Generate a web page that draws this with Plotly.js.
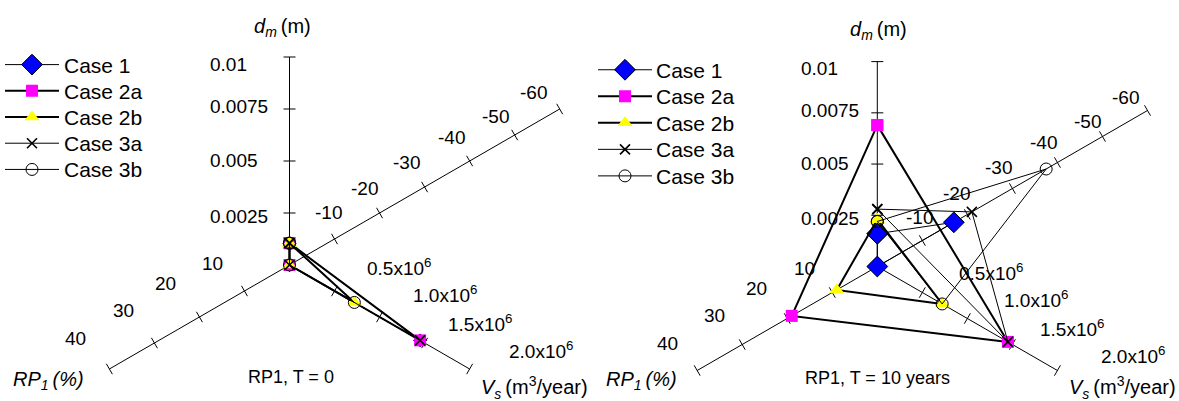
<!DOCTYPE html>
<html><head><meta charset="utf-8">
<script src="https://cdn.plot.ly/plotly-3.0.1.min.js"></script>
<style>html,body{margin:0;padding:0;background:#fff;overflow:hidden}#chart{width:1179px;height:401px}</style>
</head><body><div id="chart"></div>
<script>
// ---------------- data ----------------
const cases = ['Case 1', 'Case 2a', 'Case 2b', 'Case 3a', 'Case 3b'];
// RP1, T = 0
const dm_T0  = [0.00105, 0.00105, 0.00105, 0.00105, 0.00105];
const vs_T0  = [1.45e6, 1.45e6, 0.72e6, 1.45e6, 0.72e6];
const rp1_T0 = [0, 0, 0, 0, 0];
// RP1, T = 10 years
const dm_T10  = [0.0016, 0.0069, 0.0023, 0.0028, 0.0022];
const vs_T10  = [0, 1.45e6, 0.72e6, 1.45e6, 0.72e6];
const rp1_T10 = [-17, 19, 9, -21, -37.5];
// axes
const dmTicks = [0.0025, 0.005, 0.0075, 0.01];
const dmTickLabels = ['0.0025', '0.005', '0.0075', '0.01'];
const vsTicks = [0.5e6, 1.0e6, 1.5e6, 2.0e6];
const vsTickLabels = ['0.5x10<sup>6</sup>', '1.0x10<sup>6</sup>', '1.5x10<sup>6</sup>', '2.0x10<sup>6</sup>'];
const rpTicks = [-60, -50, -40, -30, -20, -10, 10, 20, 30, 40];
const rpTickLabels = ['-60', '-50', '-40', '-30', '-20', '-10', '10', '20', '30', '40'];
const dmRange = [0, 0.01], vsRange = [0, 2e6], rpRange = [-60, 40];
const panelTitles = ['RP1, T = 0', 'RP1, T = 10 years'];

// ---------------- styles ----------------
const W = 1179, H = 401;
const FONT = '"Liberation Sans", Arial, Helvetica, sans-serif';
const ANG = {dm: 90, vs: -30, rp: 210};
const MAX = {dm: 0.01, vs: 2e6, rp: 40};
const TS = '\u2009';
const caseStyle = [
  {symbol: 'diamond', size: 16, color: '#0000FF', line: {color: '#000', width: 1}, lw: 1},
  {symbol: 'square', size: 12, color: '#FF00FF', line: {width: 0}, lw: 2},
  {symbol: 'triangle-up', size: 13, color: '#FFFF00', line: {width: 0}, lw: 2},
  {symbol: 'x-thin-open', size: 10, color: '#000', line: {color: '#000', width: 1.6}, lw: 1},
  {symbol: 'circle-open', size: 12, color: '#000', line: {color: '#000', width: 1}, lw: 1}
];
const panels = [
  {ox: 289.5, oy: 265, R: 208, dmLen: 1.0, xa: 'x', ya: 'y', xd: [0, 0.5], leg: 'legend',
   dm: dm_T0, vs: vs_T0, rp: rp1_T0, nudge: [0, 0], dmLabX: -80.5, case1Size: 10,
   legText: [63, 65, 26.2],
   dmTitle: [282.5, 27], rpTitle: [12, 380], vsTitle: [480, 387], cap: [291, 377]},
  {ox: 877.3, oy: 266.5, R: 208, dmLen: 0.985, xa: 'x2', ya: 'y2', xd: [0.5, 1], leg: 'legend2',
   dm: dm_T10, vs: vs_T10, rp: rp1_T10, nudge: [4, 3.5], dmLabX: -77.3, case1Size: 16,
   legText: [655, 70, 26.5],
   dmTitle: [878, 31], rpTitle: [605, 380], vsTitle: [1068, 387], cap: [877, 378]}
];
const dmLabDy = [3, -1, -2.5, 7];
const vsLabOff = [[31.5, -24], [32, -23], [22.4, -20.3], [38.4, -19]];
const rpLabOff = {'-60': [-26, -16.5], '-50': [-19, -18.5], '-40': [-18, -23.5], '-30': [-18, -24],
  '-20': [-14.6, -25], '-10': [-6.5, -27], '10': [-32, -28], '20': [-34.4, -34], '30': [-31.4, -33], '40': [-34, -31]};
const TICKFONT = {family: FONT, size: 19, color: '#000'};
const TITLEFONT = {family: FONT, size: 20, color: '#000'};
const LEGFONT = {family: FONT, size: 21, color: '#000'};

function unit(axis, v, p) {
  const len = axis === 'dm' ? p.dmLen : 1;
  const r = v / MAX[axis] * len;
  const a = ANG[axis] * Math.PI / 180;
  return [r * Math.cos(a), r * Math.sin(a)];
}
function toPix(u, p) { return [p.ox + p.R * u[0], p.oy - p.R * u[1]]; }

const traces = [];
const annotations = [];
function ann(px, py, text, opt) {
  const o = Object.assign({xref: 'paper', yref: 'paper', x: px / W, y: 1 - py / H,
    text: text, showarrow: false, xanchor: 'center', yanchor: 'middle', borderpad: 0,
    font: TICKFONT}, opt || {});
  if (o.xanchor === 'left') o.align = 'left';
  annotations.push(o);
}

panels.forEach((p, pi) => {
  // axis lines
  const ax = [], ay = [];
  const seg = (a, b) => { ax.push(a[0], b[0], null); ay.push(a[1], b[1], null); };
  seg(unit('rp', rpRange[0], p), unit('rp', rpRange[1], p));
  seg(unit('dm', dmRange[0], p), unit('dm', dmRange[1], p));
  seg(unit('vs', vsRange[0], p), unit('vs', vsRange[1], p));
  const h = 6 / p.R;
  const tick = (axis, v) => {
    const c = unit(axis, v, p);
    const a = ANG[axis] * Math.PI / 180;
    const n = [-Math.sin(a) * h, Math.cos(a) * h];
    seg([c[0] - n[0], c[1] - n[1]], [c[0] + n[0], c[1] + n[1]]);
  };
  dmTicks.forEach(v => tick('dm', v));
  vsTicks.forEach(v => tick('vs', v));
  rpTicks.forEach(v => tick('rp', v));
  traces.push({type: 'scatter', mode: 'lines', x: ax, y: ay, xaxis: p.xa, yaxis: p.ya,
    line: {color: '#000', width: 1}, hoverinfo: 'skip', showlegend: false, cliponaxis: false});

  // cases (legend symbols come from the Plotly legend, legend labels are annotations)
  cases.forEach((name, i) => {
    const pts = [unit('dm', p.dm[i], p), unit('vs', p.vs[i], p), unit('rp', p.rp[i], p)];
    pts.push(pts[0]);
    const s = caseStyle[i];
    const size = i === 0 ? p.case1Size : s.size;
    const ownLegend = size === s.size;
    if (!ownLegend) {
      traces.push({type: 'scatter', mode: 'lines+markers', name: ' ', legend: p.leg,
        x: [null], y: [null], xaxis: p.xa, yaxis: p.ya,
        line: {color: '#000', width: s.lw},
        marker: {symbol: s.symbol, size: s.size, color: s.color, line: s.line}});
    }
    traces.push({type: 'scatter', mode: 'lines+markers', name: ' ', legend: p.leg,
      showlegend: ownLegend,
      x: pts.map(q => q[0]), y: pts.map(q => q[1]), xaxis: p.xa, yaxis: p.ya, cliponaxis: false,
      line: {color: '#000', width: s.lw},
      marker: {symbol: s.symbol, size: size, color: s.color, line: s.line}});
    ann(p.legText[0], p.legText[1] + i * p.legText[2], name, {xanchor: 'left', font: LEGFONT});
  });

  // tick labels
  dmTicks.forEach((v, k) => {
    const q = toPix(unit('dm', v, p), p);
    ann(p.ox + p.dmLabX, q[1] + dmLabDy[k], dmTickLabels[k], {xanchor: 'left'});
  });
  vsTicks.forEach((v, k) => {
    const q = toPix(unit('vs', v, p), p);
    ann(q[0] + vsLabOff[k][0] + p.nudge[0], q[1] + vsLabOff[k][1] + p.nudge[1], vsTickLabels[k], {xanchor: 'left'});
  });
  rpTicks.forEach((v, k) => {
    const q = toPix(unit('rp', v, p), p);
    const o = rpLabOff[String(v)];
    ann(q[0] + o[0] + p.nudge[0], q[1] + o[1] + p.nudge[1], rpTickLabels[k]);
  });
  // titles
  ann(p.dmTitle[0], p.dmTitle[1], '<i>d<sub>m</sub></i>' + TS + '(m)', {font: TITLEFONT});
  ann(p.rpTitle[0], p.rpTitle[1], '<i>RP<sub>1</sub>' + TS + '(%)</i>', {xanchor: 'left', font: TITLEFONT});
  ann(p.vsTitle[0], p.vsTitle[1], '<i>V<sub>s</sub></i>' + TS + '(m<sup>3</sup>/year)', {xanchor: 'left', font: TITLEFONT});
  ann(p.cap[0], p.cap[1], panelTitles[pi], {font: {family: FONT, size: 18, color: '#000'}});
});

const legBase = {xanchor: 'left', yanchor: 'top', bgcolor: 'rgba(0,0,0,0)', itemwidth: 54, tracegroupgap: 0};
const layout = {
  width: W, height: H, margin: {l: 0, r: 0, t: 0, b: 0},
  paper_bgcolor: '#fff', plot_bgcolor: 'rgba(0,0,0,0)',
  annotations: annotations, hovermode: false,
  legend: Object.assign({x: 0 / W, y: 1 - 46.5 / H, font: {family: FONT, size: 17.85, color: '#000'}}, legBase),
  legend2: Object.assign({x: 593 / W, y: 1 - 51.5 / H, font: {family: FONT, size: 18.1, color: '#000'}}, legBase)
};
panels.forEach((p, pi) => {
  const sx = pi === 0 ? '' : '2';
  const dw = (p.xd[1] - p.xd[0]) * W;
  const x0 = p.xd[0] * W;
  layout['xaxis' + sx] = {domain: p.xd, range: [(x0 - p.ox) / p.R, (x0 + dw - p.ox) / p.R],
    visible: false, fixedrange: true};
  layout['yaxis' + sx] = {domain: [0, 1], range: [(p.oy - H) / p.R, p.oy / p.R],
    visible: false, fixedrange: true, anchor: 'x' + sx};
  if (pi === 1) layout['xaxis2'].anchor = 'y2';
});
Plotly.newPlot('chart', traces, layout, {staticPlot: true, displayModeBar: false});
</script></body></html>
